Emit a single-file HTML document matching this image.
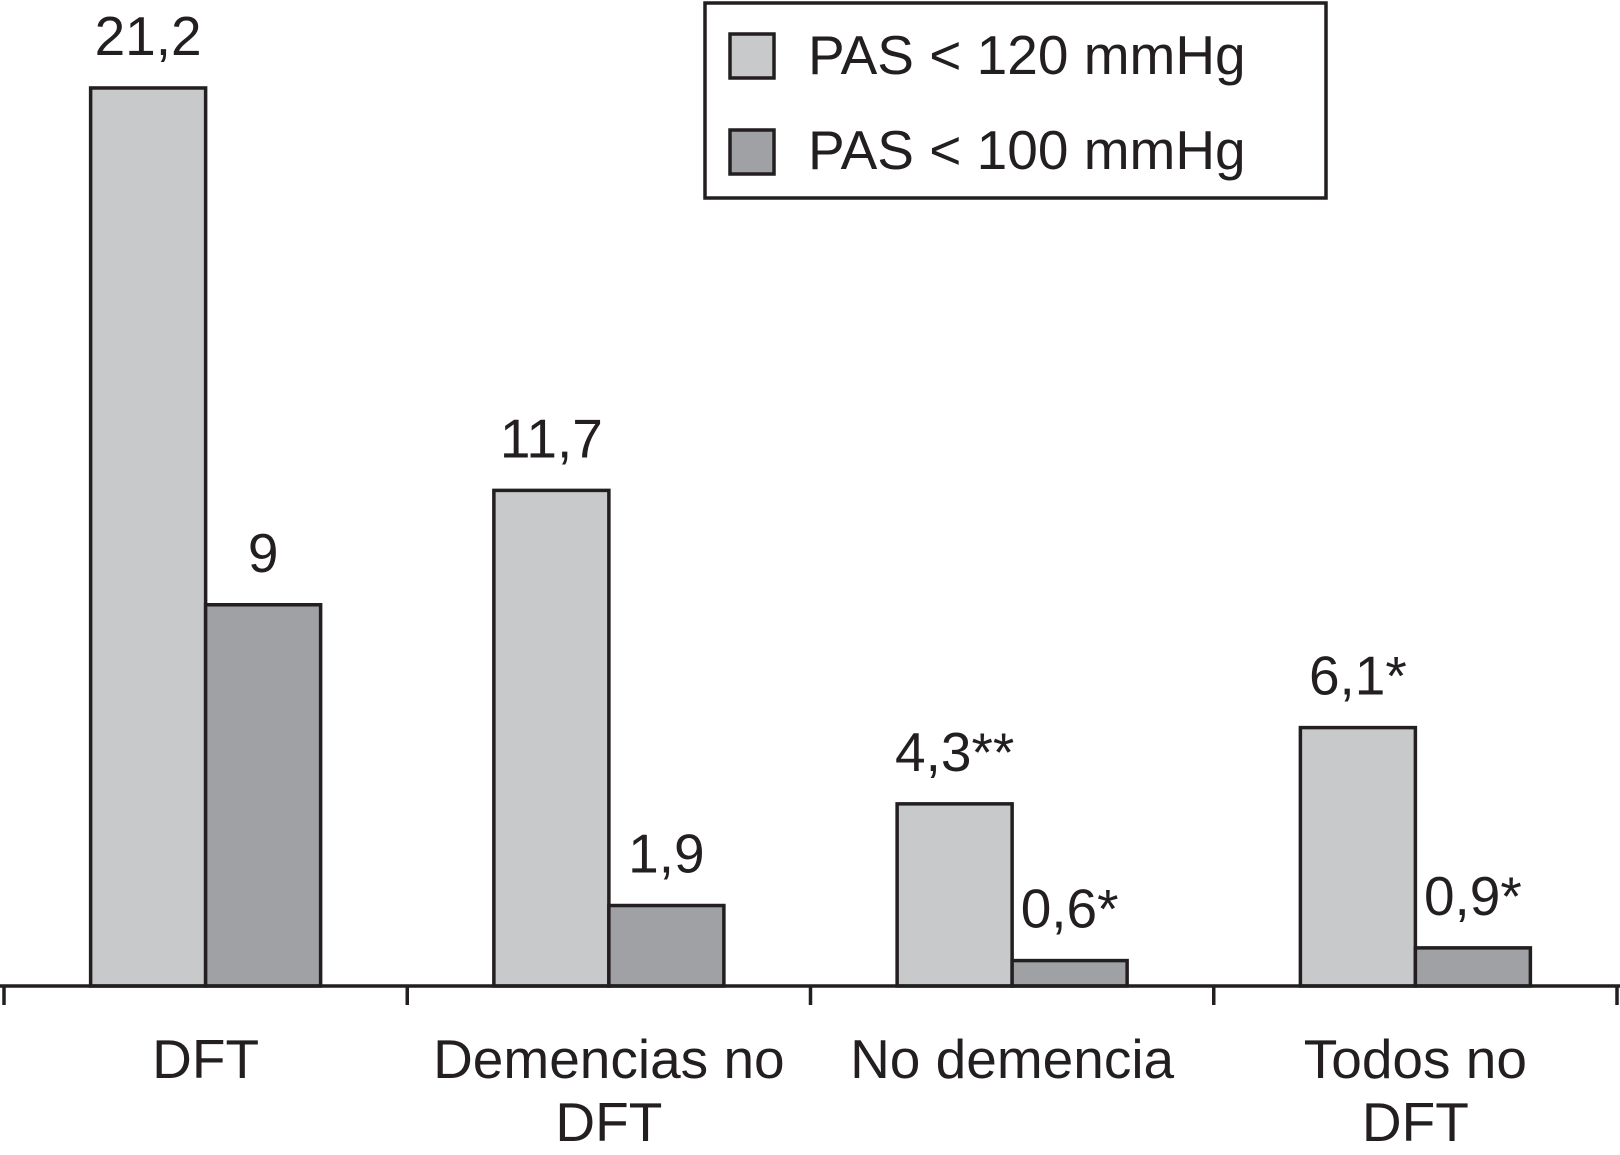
<!DOCTYPE html>
<html><head><meta charset="utf-8"><style>
html,body{margin:0;padding:0;background:#fff;}
svg{display:block;}
text{font-family:"Liberation Sans",sans-serif;fill:#231f20;}
</style></head><body>
<svg id="chart" width="1620" height="1155" viewBox="0 0 1620 1155" xmlns="http://www.w3.org/2000/svg">
<g id="bars"></g>
<g id="axis"></g>
<g>
<rect x="705" y="3" width="621" height="195" fill="#fff" stroke="#231f20" stroke-width="3.5"/>
<rect x="730" y="34" width="44" height="44" fill="#c8c9cb" stroke="#231f20" stroke-width="3.5"/>
<text x="808" y="74" font-size="55">PAS &lt; 120 mmHg</text>
<rect x="730" y="130" width="44" height="44" fill="#a0a1a4" stroke="#231f20" stroke-width="3.5"/>
<text x="808" y="169" font-size="55">PAS &lt; 100 mmHg</text>
</g>
</svg>
<script>
const categories = [["DFT"], ["Demencias no", "DFT"], ["No demencia"], ["Todos no", "DFT"]];
const pas120 = [21.2, 11.7, 4.3, 6.1];
const pas100 = [9, 1.9, 0.6, 0.9];
const labels120 = ["21,2", "11,7", "4,3**", "6,1*"];
const labels100 = ["9", "1,9", "0,6*", "0,9*"];

const NS = "http://www.w3.org/2000/svg";
const axisY = 986, pxPerUnit = 42.36, x0 = 4, catW = 403.25, barW = 115;
function y(v){ return axisY - v * pxPerUnit; }
function catCenter(i){ return x0 + catW * i + catW / 2; }
function mk(tag, attrs, parent){ const e = document.createElementNS(NS, tag); for (const k in attrs) e.setAttribute(k, attrs[k]); parent.appendChild(e); return e; }

const bars = document.getElementById('bars');
const axis = document.getElementById('axis');
const series = [[pas120, labels120, "#c8c9cb", -1, "pas120"], [pas100, labels100, "#a0a1a4", 0, "pas100"]];
categories.forEach((c, i) => {
  series.forEach(s => {
    const v = s[0][i];
    const bx = catCenter(i) + s[3] * barW;
    const r = mk('rect', {x: bx, y: y(v), width: barW, height: axisY - y(v), fill: s[2], stroke: '#231f20', 'stroke-width': 3.5}, bars);
    
    
    const t = mk('text', {x: bx + barW / 2, y: y(v) - 33, 'font-size': 55, 'text-anchor': 'middle'}, bars);
    t.textContent = s[1][i];
    
    
  });
  c.forEach((line, j) => {
    const t = mk('text', {x: catCenter(i), y: 1078 + j * 63, 'font-size': 55, 'text-anchor': 'middle'}, axis);
    t.textContent = line;
    
    
  });
});
const ln = mk('line', {x1: 0, y1: axisY, x2: 1620, y2: axisY, stroke: '#231f20', 'stroke-width': 3.5}, axis);


for (let i = 0; i <= categories.length; i++) {
  const tx = x0 + catW * i;
  const tk = mk('line', {x1: tx, y1: axisY, x2: tx, y2: 1005, stroke: '#231f20', 'stroke-width': 3.5}, axis);
  
  
}
</script>
</body></html>
